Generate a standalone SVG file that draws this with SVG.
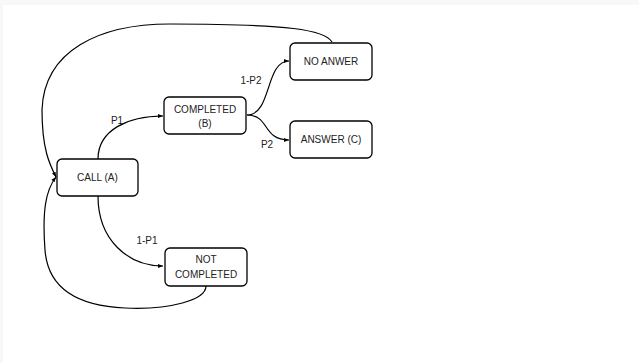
<svg xmlns="http://www.w3.org/2000/svg" width="639" height="363" viewBox="0 0 639 363">
<defs>
<style>
.box{fill:#fff;stroke:#000;stroke-width:1.3}
.t{font-family:"Liberation Sans",Arial,sans-serif;font-size:10px;fill:#222;text-anchor:middle}
.c{fill:none;stroke:#000;stroke-width:1.2}
</style>
<marker id="ah" viewBox="0 0 10 10" refX="10" refY="5" markerWidth="5" markerHeight="5" orient="auto" markerUnits="userSpaceOnUse">
<path d="M0,1 L10,5 L0,9 z" fill="#000"/>
</marker>
</defs>
<rect x="0" y="0" width="639" height="363" fill="#fff"/>
<rect x="0" y="0" width="639" height="5" fill="#f8f8f8"/>
<rect x="0" y="0" width="3" height="363" fill="#f8f8f8"/>
<g id="connectors">
<path class="c" d="M98,159 C98,130 128,116 163,116" marker-end="url(#ah)"/>
<path class="c" d="M98,196 C98,240 128,266 163,266" marker-end="url(#ah)"/>
<path class="c" d="M247,115 C272,115 265,61 289,61" marker-end="url(#ah)"/>
<path class="c" d="M247,115 C270,115 262,140 289,140" marker-end="url(#ah)"/>
<path class="c" d="M332,42 C325,30 290,24 170,24 C100,24 44,50 42,110 C42,150 50,165 56,177" marker-end="url(#ah)"/>
<path class="c" d="M206,286 C206,300 170,310 125,308 C80,306 48,290 45,250 C42,210 46,190 56,177" marker-end="url(#ah)"/>
</g>
<g id="call">
<rect class="box" x="57" y="159" width="81" height="37" rx="5"/>
<text class="t" x="97.5" y="181">CALL (A)</text>
</g>
<g id="completed">
<rect class="box" x="164" y="97" width="82" height="37" rx="5"/>
<text class="t" x="205" y="113">COMPLETED</text>
<text class="t" x="205" y="127">(B)</text>
</g>
<g id="noanswer">
<rect class="box" x="290" y="43" width="82" height="37" rx="5"/>
<text class="t" x="331" y="65">NO ANWER</text>
</g>
<g id="answer">
<rect class="box" x="290" y="121" width="82" height="37" rx="5"/>
<text class="t" x="331" y="143">ANSWER (C)</text>
</g>
<g id="notcompleted">
<rect class="box" x="165" y="248" width="82" height="38" rx="5"/>
<text class="t" x="206" y="263">NOT</text>
<text class="t" x="206" y="278">COMPLETED</text>
</g>
<g id="labels">
<text class="t" x="117" y="124">P1</text>
<text class="t" x="251" y="84">1-P2</text>
<text class="t" x="267" y="148">P2</text>
<text class="t" x="147" y="244">1-P1</text>
</g>
</svg>
